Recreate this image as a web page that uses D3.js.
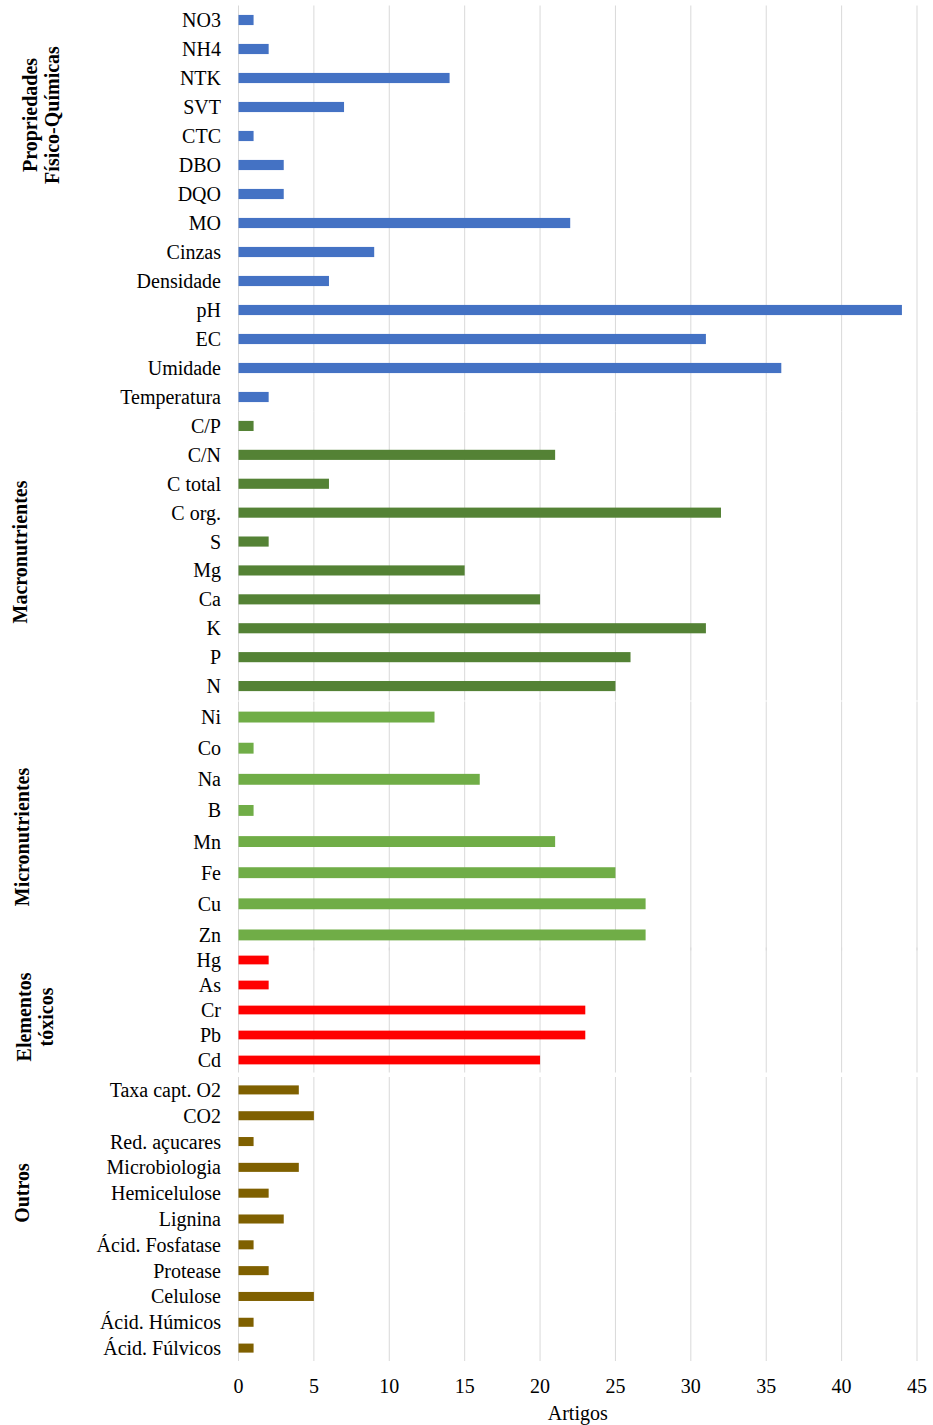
<!DOCTYPE html>
<html>
<head>
<meta charset="utf-8">
<script src="https://cdn.jsdelivr.net/npm/d3@7"></script>
<style>
  html, body { margin: 0; padding: 0; background: #fff; }
  svg { display: block; font-family: "Liberation Serif", "Times New Roman", serif; }
</style>
</head>
<body>
<svg id="chart" width="933" height="1425"></svg>
<script>
// Parameters counted in the reviewed articles, per group (top to bottom)
const fisicoLabels = ["NO3", "NH4", "NTK", "SVT", "CTC", "DBO", "DQO", "MO", "Cinzas", "Densidade", "pH", "EC", "Umidade", "Temperatura"];
const fisicoValues = [1, 2, 14, 7, 1, 3, 3, 22, 9, 6, 44, 31, 36, 2];

const macroLabels = ["C/P", "C/N", "C total", "C org.", "S", "Mg", "Ca", "K", "P", "N"];
const macroValues = [1, 21, 6, 32, 2, 15, 20, 31, 26, 25];

const microLabels = ["Ni", "Co", "Na", "B", "Mn", "Fe", "Cu", "Zn"];
const microValues = [13, 1, 16, 1, 21, 25, 27, 27];

const toxicLabels = ["Hg", "As", "Cr", "Pb", "Cd"];
const toxicValues = [2, 2, 23, 23, 20];

const outrosLabels = ["Taxa capt. O2", "CO2", "Red. açucares", "Microbiologia", "Hemicelulose", "Lignina", "Ácid. Fosfatase", "Protease", "Celulose", "Ácid. Húmicos", "Ácid. Fúlvicos"];
const outrosValues = [4, 5, 1, 4, 2, 3, 1, 2, 5, 1, 1];

const xTicks = [0, 5, 10, 15, 20, 25, 30, 35, 40, 45];
const xTitle = "Artigos";

// Panel layout: vertical extent, colour and group title lines with their position
const panels = [
  { labels: fisicoLabels, values: fisicoValues, top: 5.5,   bottom: 411.5,  color: "#4472C4", title: ["Propriedades", "Físico-Químicas"], tx: [30, 52], ty: 115 },
  { labels: macroLabels,  values: macroValues,  top: 411.5, bottom: 700.5,  color: "#548235", title: ["Macronutrientes"], tx: [20], ty: 552 },
  { labels: microLabels,  values: microValues,  top: 701.5, bottom: 950.5,  color: "#70AD47", title: ["Micronutrientes"], tx: [22], ty: 837 },
  { labels: toxicLabels,  values: toxicValues,  top: 947.5, bottom: 1072.5, color: "#FF0000", title: ["Elementos", "tóxicos"], tx: [24, 46], ty: 1017 },
  { labels: outrosLabels, values: outrosValues, top: 1077,  bottom: 1361,   color: "#7F6000", title: ["Outros"], tx: [22], ty: 1193 }
];

const FS = 20;
const svg = d3.select("#chart");
const x = d3.scaleLinear().domain([0, 45]).range([238.5, 917]);

panels.forEach(p => {
  const y = d3.scaleBand()
    .domain(p.labels)
    .range([p.top, p.bottom])
    .paddingInner(0.65)
    .paddingOuter(0.325);

  const g = svg.append("g");

  // vertical gridlines for this panel
  g.selectAll("line.grid")
    .data(xTicks)
    .enter().append("line")
    .attr("x1", d => x(d)).attr("x2", d => x(d))
    .attr("y1", p.top).attr("y2", p.bottom)
    .attr("stroke", "#d9d9d9")
    .attr("stroke-width", 1);

  // bars
  g.selectAll("rect")
    .data(p.labels.map((l, i) => ({ l, v: p.values[i] })))
    .enter().append("rect")
    .attr("x", x(0))
    .attr("y", d => y(d.l))
    .attr("width", d => x(d.v) - x(0))
    .attr("height", y.bandwidth())
    .attr("fill", p.color);

  // category labels
  g.selectAll("text.cat")
    .data(p.labels)
    .enter().append("text")
    .attr("x", 221)
    .attr("y", d => y(d) + y.bandwidth() / 2)
    .attr("dy", "0.35em")
    .attr("text-anchor", "end")
    .attr("font-size", FS)
    .attr("fill", "#000")
    .text(d => d);

  // group title, rotated
  p.title.forEach((t, i) => {
    svg.append("text")
      .attr("transform", `translate(${p.tx[i]},${p.ty}) rotate(-90)`)
      .attr("text-anchor", "middle")
      .attr("dy", "0.35em")
      .attr("font-size", FS)
      .attr("font-weight", "bold")
      .attr("fill", "#000")
      .text(t);
  });
});

// x axis tick labels
svg.append("g").selectAll("text")
  .data(xTicks)
  .enter().append("text")
  .attr("x", d => x(d))
  .attr("y", 1393)
  .attr("text-anchor", "middle")
  .attr("font-size", FS)
  .attr("fill", "#000")
  .text(d => d);

svg.append("text")
  .attr("x", x(22.5))
  .attr("y", 1420)
  .attr("text-anchor", "middle")
  .attr("font-size", FS)
  .attr("fill", "#000")
  .text(xTitle);
</script>
</body>
</html>
